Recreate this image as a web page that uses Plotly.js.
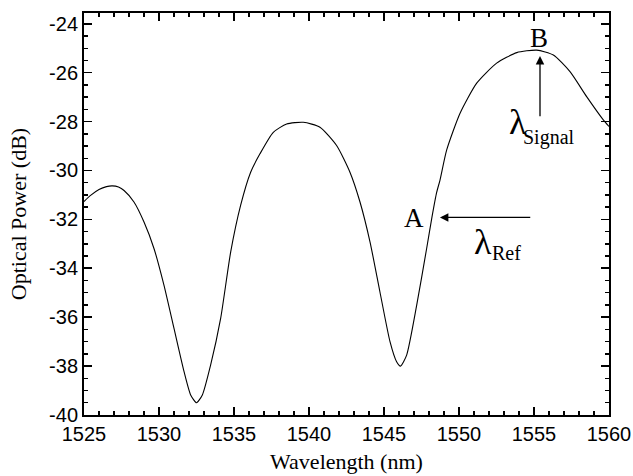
<!DOCTYPE html>
<html>
<head>
<meta charset="utf-8">
<script src="https://cdn.plot.ly/plotly-3.0.1.min.js"></script>
<style>html,body{margin:0;padding:0;background:#fff;}#chart{width:633px;height:476px;}</style>
</head>
<body>
<div id="chart"></div>
<script>
// Wavelength (nm) and optical power (dB)
const wavelength = [1525.0, 1525.44, 1526.0, 1526.5, 1526.89, 1527.3, 1527.67, 1528.33, 1529.0, 1529.67,
  1530.33, 1531.0, 1531.67, 1532.11, 1532.5, 1532.89, 1533.44, 1534.11, 1534.78, 1535.44,
  1536.11, 1536.73, 1537.62, 1538.51, 1539.62, 1540.73, 1541.84, 1542.73, 1543.4, 1544.07,
  1544.73, 1545.4, 1545.84, 1546.1, 1546.51, 1547.18, 1547.84, 1548.2, 1548.51, 1548.73,
  1549.18, 1550.07, 1551.18, 1552.51, 1553.85, 1555.18, 1556.29, 1557.4, 1558.51, 1559.62, 1560.0];
const power = [-31.27, -31.02, -30.78, -30.66, -30.63, -30.68, -30.82, -31.29, -32.11, -33.2,
  -34.69, -36.46, -38.23, -39.18, -39.5, -39.18, -37.96, -36.05, -33.33, -31.43,
  -30.07, -29.32, -28.44, -28.1, -28.03, -28.23, -28.98, -30.07, -31.29, -32.93,
  -34.97, -37.0, -37.82, -38.0, -37.55, -35.51, -33.2, -31.9, -30.9, -30.4,
  -29.16, -27.66, -26.43, -25.61, -25.18, -25.08, -25.28, -25.96, -26.98, -27.93, -28.2];

const xTicks = [1525, 1530, 1535, 1540, 1545, 1550, 1555, 1560];
const yTicks = [-40, -38, -36, -34, -32, -30, -28, -26, -24];

// Annotation anchors (data coordinates)
const pointA = {label: 'A', x: 1547.0, y: -31.93};
const pointB = {label: 'B', x: 1555.3, y: -24.6};
const refArrow = {x: 1548.73, y: -31.92, tailX: 1554.85, tailY: -31.92};
const sigArrow = {x: 1555.4, y: -25.32, tailX: 1555.4, tailY: -27.84};
const lambdaRef = {x: 1551.57, y: -32.93, subX: 1553.18, subY: -33.38, sub: 'Ref'};
const lambdaSig = {x: 1553.9, y: -28.0, subX: 1556.0, subY: -28.65, sub: 'Signal'};

const serif = 'Liberation Serif, Times New Roman, serif';
const sans = 'Liberation Sans, Arial, sans-serif';

const trace = {
  x: wavelength, y: power, type: 'scatter', mode: 'lines',
  line: {color: '#000', width: 1.1, shape: 'spline', smoothing: 0.6},
  hoverinfo: 'none'
};

function txt(x, y, t, size) {
  return {x: x, y: y, xref: 'x', yref: 'y', text: t, showarrow: false,
    font: {family: serif, size: size, color: '#000'}, xanchor: 'center', yanchor: 'middle'};
}
function arrow(a) {
  return {x: a.x, y: a.y, ax: a.tailX, ay: a.tailY, xref: 'x', yref: 'y', axref: 'x', ayref: 'y',
    text: '', showarrow: true, arrowhead: 2, arrowsize: 1.3, arrowwidth: 1.3, arrowcolor: '#000'};
}

const axisCommon = {
  showline: true, linecolor: '#000', linewidth: 2, mirror: 'allticks',
  ticks: 'inside', ticklen: 8, tickwidth: 1.6, tickcolor: '#000',
  showgrid: false, zeroline: false,
  tickfont: {family: sans, size: 20, color: '#000'}
};

const layout = {
  width: 633, height: 476,
  margin: {l: 84, r: 24, t: 13, b: 61},
  paper_bgcolor: '#fff', plot_bgcolor: '#fff',
  showlegend: false,
  xaxis: Object.assign({}, axisCommon, {
    range: [1525, 1560], tickvals: xTicks, ticktext: xTicks.map(String),
    minor: {dtick: 1, tick0: 1525, ticks: 'inside', ticklen: 4, tickwidth: 1.4, tickcolor: '#000'},
    title: {text: 'Wavelength (nm)', font: {family: serif, size: 22, color: '#000'}, standoff: 10}
  }),
  yaxis: Object.assign({}, axisCommon, {
    range: [-40, -23.56], tickvals: yTicks, ticktext: yTicks.map(String),
    minor: {dtick: 0.5, tick0: -40, ticks: 'inside', ticklen: 4, tickwidth: 1.4, tickcolor: '#000'},
    title: {text: 'Optical Power (dB)', font: {family: serif, size: 22, color: '#000'}, standoff: 16}
  }),
  annotations: [
    txt(pointA.x, pointA.y, pointA.label, 27),
    txt(pointB.x, pointB.y, pointB.label, 27),
    arrow(refArrow),
    arrow(sigArrow),
    txt(lambdaRef.x, lambdaRef.y, 'λ', 36),
    txt(lambdaRef.subX, lambdaRef.subY, lambdaRef.sub, 20),
    txt(lambdaSig.x, lambdaSig.y, 'λ', 36),
    txt(lambdaSig.subX, lambdaSig.subY, lambdaSig.sub, 20)
  ]
};

Plotly.newPlot('chart', [trace], layout, {staticPlot: true, displayModeBar: false});
</script>
</body>
</html>
